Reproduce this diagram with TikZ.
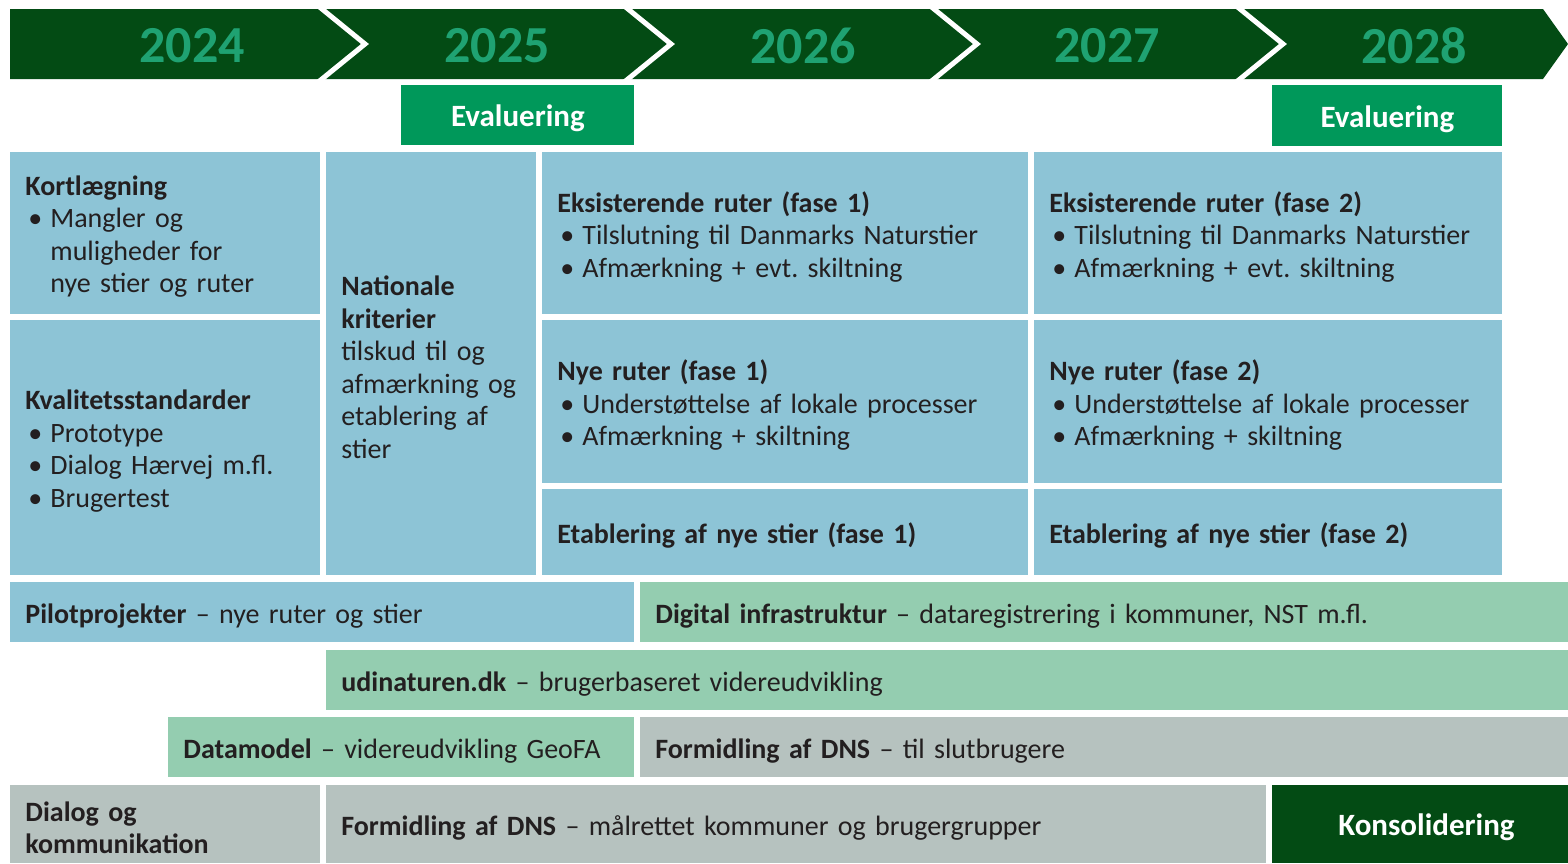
\documentclass[tikz,border=0pt]{standalone}
\usepackage{fontspec}
\setmainfont{Carlito}
\frenchspacing
\definecolor{dkgreen}{HTML}{034B14}
\definecolor{yeargreen}{HTML}{1FA272}
\definecolor{evalgreen}{HTML}{00985A}
\definecolor{blue}{HTML}{8DC4D6}
\definecolor{mint}{HTML}{94CDB0}
\definecolor{grey}{HTML}{B6C2BF}
\definecolor{txt}{HTML}{231F20}
\newcommand\itm[1]{\makebox[12.5pt][l]{\hspace{1.5pt}\textbullet}#1}
\newcommand\ind{\hspace*{12.5pt}}
\newcommand\bx[8][]{%
  \pgfmathsetmacro\bw{(#5-#3)*0.5}%
  \pgfmathsetmacro\bh{(#6-#4)*0.5}%
  \pgfmathsetmacro\tw{(#5-#3-30)*0.5}%
  \node[box, fill=#7, minimum width=\bw pt, minimum height=\bh pt, anchor=north west] (#2) at (#3,#4) {};
  \node[boxtext, text width=\tw pt, #1] (#2-t) at ([yshift=-1.6pt]#2.center) {#8};}
\begin{document}
\begin{tikzpicture}[x=0.5pt,y=-0.5pt,
  every node/.style={text=txt, font=\fontsize{14}{16.25}\selectfont\frenchspacing},
  box/.style={inner sep=0pt, draw=none},
  boxtext/.style={inner xsep=7.5pt, inner ysep=0pt, align=left},
  year/.style={text=yeargreen, font=\bfseries\fontsize{26}{30}\selectfont},
  whitebold/.style={text=white, align=center, font=\bfseries\fontsize{15.5}{18}\selectfont}]
\useasboundingbox (0,0) rectangle (1568,863);
% header band
\fill[dkgreen] (10,9) -- (1543,9) -- (1568,44) -- (1543,79) -- (10,79) -- cycle;
\foreach \x in {322,628,934,1240}{
  \draw[white, line width=2.5pt] (\x-3.7,6) -- (\x+43,44) -- (\x-3.7,82);
}
\node[year] (y2024) at (192,46) {2024};
\node[year] (y2025) at (497,46) {2025};
\node[year] (y2026) at (803,46) {2026};
\node[year] (y2027) at (1107,46) {2027};
\node[year] (y2028) at (1414,46) {2028};
% evaluering
\bx[whitebold]{eval1}{401}{85}{634}{145}{evalgreen}{Evaluering}
\bx[whitebold]{eval2}{1272}{85}{1502}{146}{evalgreen}{Evaluering}
% blue grid
\bx{kort}{10}{152}{320}{314}{blue}{\textbf{Kortlægning}\\\itm{Mangler og}\\\ind muligheder for\\\ind nye stier og ruter}
\bx{kval}{10}{320}{320}{575}{blue}{\textbf{Kvalitetsstandarder}\\\itm{Prototype}\\\itm{Dialog Hærvej m.fl.}\\\itm{Brugertest}}
\bx{nat}{326}{152}{536}{575}{blue}{\textbf{Nationale}\\\textbf{kriterier}\\tilskud til og\\afmærkning og\\etablering af\\stier}
\bx{eks1}{542}{152}{1028}{314}{blue}{\textbf{Eksisterende ruter (fase 1)}\\\itm{Tilslutning til Danmarks Naturstier}\\\itm{Afmærkning + evt. skiltning}}
\bx{eks2}{1034}{152}{1502}{314}{blue}{\textbf{Eksisterende ruter (fase 2)}\\\itm{Tilslutning til Danmarks Naturstier}\\\itm{Afmærkning + evt. skiltning}}
\bx{nye1}{542}{320}{1028}{483}{blue}{\textbf{Nye ruter (fase 1)}\\\itm{Understøttelse af lokale processer}\\\itm{Afmærkning + skiltning}}
\bx{nye2}{1034}{320}{1502}{483}{blue}{\textbf{Nye ruter (fase 2)}\\\itm{Understøttelse af lokale processer}\\\itm{Afmærkning + skiltning}}
\bx{etab1}{542}{489}{1028}{575}{blue}{\textbf{Etablering af nye stier (fase 1)}}
\bx{etab2}{1034}{489}{1502}{575}{blue}{\textbf{Etablering af nye stier (fase 2)}}
% lower rows
\bx{pilot}{10}{582}{634}{642}{blue}{\textbf{Pilotprojekter} -- nye ruter og stier}
\bx{digi}{640}{582}{1568}{642}{mint}{\textbf{Digital infrastruktur} -- dataregistrering i kommuner, NST m.fl.}
\bx{udi}{326}{650}{1568}{710}{mint}{\textbf{udinaturen.dk} -- brugerbaseret videreudvikling}
\bx{datam}{168}{717}{634}{777}{mint}{\textbf{Datamodel} -- videreudvikling GeoFA}
\bx{form1}{640}{717}{1568}{777}{grey}{\textbf{Formidling af DNS} -- til slutbrugere}
\bx{dial}{10}{785}{320}{863}{grey}{\textbf{Dialog og}\\\textbf{kommunikation}}
\bx{form2}{326}{785}{1266}{863}{grey}{\textbf{Formidling af DNS} -- målrettet kommuner og brugergrupper}
\bx[whitebold, xshift=3pt]{kons}{1272}{785}{1568}{863}{dkgreen}{Konsolidering}
\end{tikzpicture}
\end{document}
